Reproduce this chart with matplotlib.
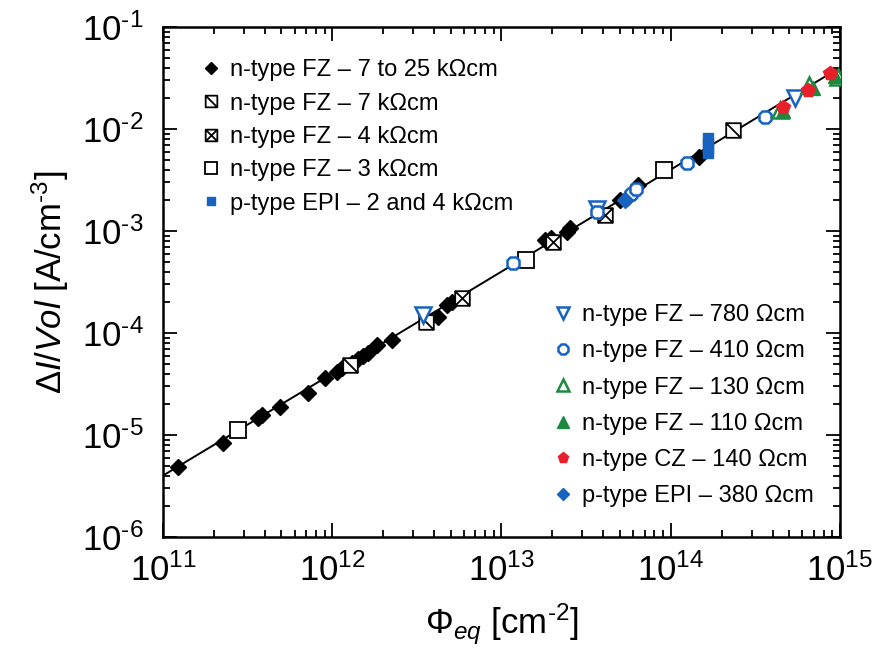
import numpy as np
import matplotlib
matplotlib.use("Agg")
import matplotlib.pyplot as plt
from matplotlib.path import Path
from matplotlib.ticker import FuncFormatter

plt.rcParams['font.family'] = ['Liberation Sans', 'DejaVu Sans']
plt.rcParams['mathtext.fontset'] = 'custom'
plt.rcParams['mathtext.rm'] = 'Liberation Sans'
plt.rcParams['mathtext.it'] = 'Liberation Sans:italic'
plt.rcParams['mathtext.bf'] = 'Liberation Sans:bold'
plt.rcParams['axes.unicode_minus'] = False

# ---------------- data ----------------
alpha = 4.0e-17
fit_x = [1e11, 1e15]

fz_7_25k_x = [1.23e11, 2.26e11, 3.64e11, 3.84e11, 4.91e11, 7.19e11, 9.06e11, 1.07e12,
              1.14e12, 1.30e12, 1.42e12, 1.52e12, 1.62e12, 1.84e12, 2.25e12, 4.22e12,
              4.77e12, 5.10e12, 1.81e13, 1.95e13, 2.44e13, 2.54e13, 5.01e13, 5.52e13,
              6.4e13, 1.47e14]
fz_7_25k_y = [4.85e-6, 8.4e-6, 1.47e-5, 1.57e-5, 1.88e-5, 2.58e-5, 3.62e-5, 4.1e-5,
              4.5e-5, 5.1e-5, 5.6e-5, 6.0e-5, 6.3e-5, 7.6e-5, 8.5e-5, 1.43e-4,
              1.88e-4, 2.0e-4, 8.2e-4, 8.6e-4, 9.8e-4, 1.07e-3, 2.0e-3, 2.1e-3,
              2.8e-3, 5.3e-3]

fz_7k_x = [1.28e12, 3.58e12, 2.34e14]
fz_7k_y = [4.9e-5, 1.28e-4, 9.8e-3]

fz_4k_x = [5.85e12, 2.02e13, 4.09e13]
fz_4k_y = [2.2e-4, 7.8e-4, 1.43e-3]

fz_3k_x = [2.77e11, 1.40e13, 9.12e13]
fz_3k_y = [1.12e-5, 5.2e-4, 3.96e-3]

epi_2_4k_x = [1.66e14, 1.66e14, 1.66e14, 1.66e14]
epi_2_4k_y = [5.8e-3, 6.5e-3, 7.3e-3, 8.1e-3]

fz_780_x = [3.44e12, 3.67e13, 5.42e14]
fz_780_y = [1.5e-4, 1.64e-3, 2.01e-2]

fz_410_x = [1.17e13, 3.67e13, 5.8e13, 6.2e13, 1.25e14, 3.61e14]
fz_410_y = [4.85e-4, 1.53e-3, 2.3e-3, 2.6e-3, 4.65e-3, 1.31e-2]

fz_130_x = [4.43e14, 6.6e14, 9.7e14]
fz_130_y = [1.55e-2, 2.7e-2, 3.2e-2]

fz_110_x = [4.6e14, 6.9e14, 9.3e14]
fz_110_y = [1.5e-2, 2.5e-2, 3.3e-2]

cz_140_x = [4.61e14, 6.47e14, 8.73e14]
cz_140_y = [1.64e-2, 2.41e-2, 3.54e-2]

epi_380_x = [5.37e13]
epi_380_y = [2.0e-3]

labels_top = ["n-type FZ \u2013 7 to 25 k\u03a9cm", "n-type FZ \u2013 7 k\u03a9cm",
              "n-type FZ \u2013 4 k\u03a9cm", "n-type FZ \u2013 3 k\u03a9cm",
              "p-type EPI \u2013 2 and 4 k\u03a9cm"]
labels_bot = ["n-type FZ \u2013 780 \u03a9cm", "n-type FZ \u2013 410 \u03a9cm",
              "n-type FZ \u2013 130 \u03a9cm", "n-type FZ \u2013 110 \u03a9cm",
              "n-type CZ \u2013 140 \u03a9cm", "p-type EPI \u2013 380 \u03a9cm"]

# ---------------- styles ----------------
BLUE = '#1763c2'
GREEN = '#1a8a3e'
RED = '#e8202c'

sq = [(-0.5, -0.5), (0.5, -0.5), (0.5, 0.5), (-0.5, 0.5), (-0.5, -0.5)]
diag_path = Path(sq + [(-0.5, 0.5), (0.5, -0.5)],
                 [Path.MOVETO, Path.LINETO, Path.LINETO, Path.LINETO, Path.CLOSEPOLY,
                  Path.MOVETO, Path.LINETO])
x_path = Path(sq + [(-0.5, 0.5), (0.5, -0.5), (-0.5, -0.5), (0.5, 0.5)],
              [Path.MOVETO, Path.LINETO, Path.LINETO, Path.LINETO, Path.CLOSEPOLY,
               Path.MOVETO, Path.LINETO, Path.MOVETO, Path.LINETO])

fig = plt.figure(figsize=(8.78, 6.60), dpi=100)
ax = fig.add_axes([163/878, 1-537/660, (840-163)/878, (537-27)/660])
ax.set_xscale('log')
ax.set_yscale('log')

fx = np.array(fit_x)
ax.plot(fx, alpha*fx, color='black', lw=1.4, zorder=2)

common = dict(linestyle='none', zorder=3)
h1, = ax.plot(fz_7_25k_x, fz_7_25k_y, marker='D', ms=8, mfc='black', mec='black', mew=1, **common)
h2, = ax.plot(fz_7k_x, fz_7k_y, marker=diag_path, ms=10.5, mfc='white', mec='black', mew=1.3, **common)
h3, = ax.plot(fz_4k_x, fz_4k_y, marker=x_path, ms=10.5, mfc='white', mec='black', mew=1.3, **common)
h4, = ax.plot(fz_3k_x, fz_3k_y, marker='s', ms=11, mfc='white', mec='black', mew=1.3, **common)
h5, = ax.plot(epi_2_4k_x, epi_2_4k_y, marker='s', ms=7.5, mfc=BLUE, mec=BLUE, mew=1, **common)
h6, = ax.plot(fz_780_x, fz_780_y, marker='v', ms=11, mfc='white', mec=BLUE, mew=1.8, **common)
h7, = ax.plot(fz_410_x, fz_410_y, marker='8', ms=10, mfc='white', mec=BLUE, mew=1.8, **common)
h8, = ax.plot(fz_130_x, fz_130_y, marker='^', ms=11, mfc='white', mec=GREEN, mew=1.8, **common)
h9, = ax.plot(fz_110_x, fz_110_y, marker='^', ms=10, mfc=GREEN, mec=GREEN, mew=1, **common)
h10, = ax.plot(cz_140_x, cz_140_y, marker='p', ms=10, mfc=RED, mec=RED, mew=1, **common)
h11, = ax.plot(epi_380_x, epi_380_y, marker='D', ms=8, mfc=BLUE, mec=BLUE, mew=1, **common)

ax.set_xlim(1e11, 1e15)
ax.set_ylim(1e-6, 1e-1)


def pow10(v, pos):
    n = int(round(np.log10(v)))
    if n < 0:
        return r'$10^{\text{-}%d}$' % (-n)
    return r'$10^{%d}$' % n


ax.xaxis.set_major_formatter(FuncFormatter(pow10))
ax.yaxis.set_major_formatter(FuncFormatter(pow10))

ax.tick_params(which='both', direction='in', top=True, right=True, labelsize=25, width=1.3)
ax.tick_params(which='major', length=10)
ax.tick_params(which='minor', length=5)
ax.tick_params(axis='x', pad=12)
ax.tick_params(axis='y', pad=14)
for s in ax.spines.values():
    s.set_linewidth(1.8)

ax.set_xlabel(r'$\Phi_{eq}$ [cm$^{\text{-}2}$]', fontsize=25, labelpad=10)
ax.set_ylabel(r'$\Delta I/Vol$ [A/cm$^{\text{-}3}$]', fontsize=25, labelpad=8)

leg1 = ax.legend([h1, h2, h3, h4, h5], labels_top, loc='upper left', frameon=False,
                 fontsize=17, markerscale=0.8, handlelength=0.7, handletextpad=0.45,
                 labelspacing=0.48, borderaxespad=0.0, bbox_to_anchor=(0.045, 0.955))
ax.add_artist(leg1)
ax.legend([h6, h7, h8, h9, h10, h11], labels_bot, loc='lower right', frameon=False,
          fontsize=17, markerscale=0.8, handlelength=0.7, handletextpad=0.45,
          labelspacing=0.6, borderaxespad=0.0, bbox_to_anchor=(0.975, 0.04))

fig.savefig('out.png', dpi=100)
